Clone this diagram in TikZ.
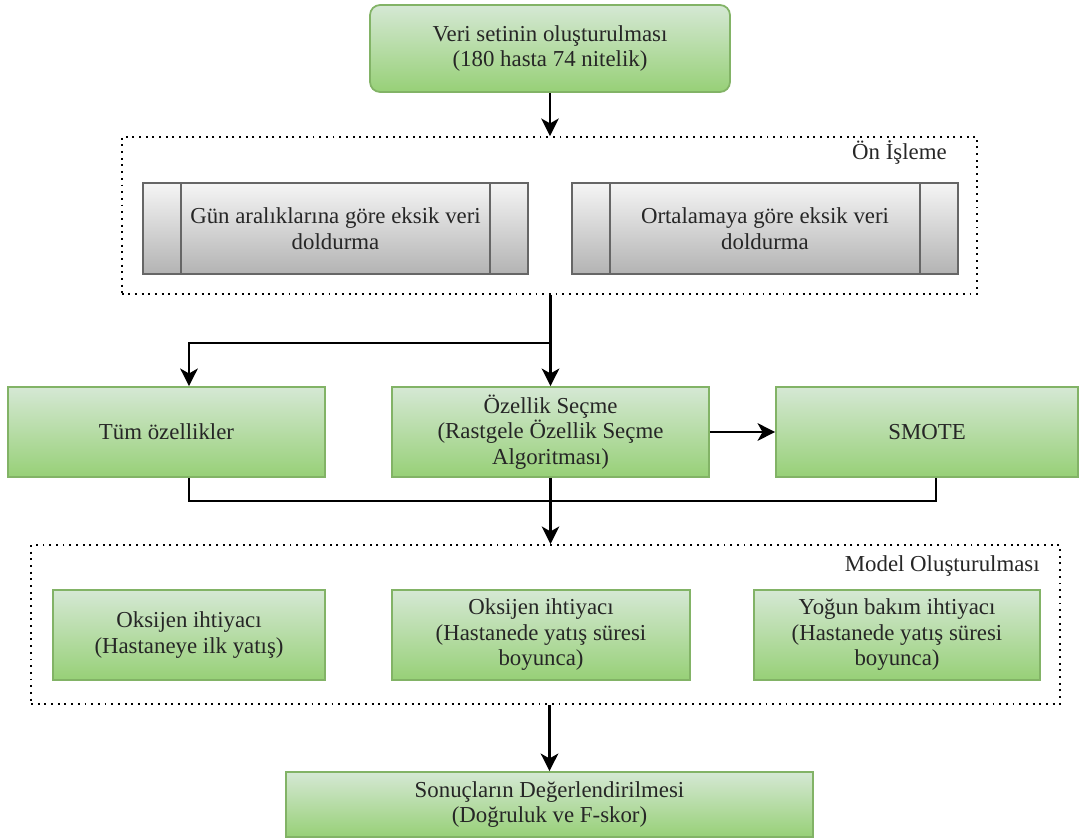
\documentclass[tikz,border=0pt]{standalone}
\usepackage{fontspec}
\setmainfont{Liberation Serif}
\newfontfamily\diagfont{Liberation Serif}
\usetikzlibrary{arrows.meta,positioning,calc}
\definecolor{greentop}{HTML}{D5E8D4}
\definecolor{greenbot}{HTML}{97D077}
\definecolor{greenline}{HTML}{82B366}
\definecolor{graytop}{HTML}{F5F5F5}
\definecolor{graybot}{HTML}{B3B3B3}
\definecolor{grayline}{HTML}{666666}
\tikzset
{
    stepnode/.style  = {rectangle, draw=greenline, line width=1pt, top color=greentop, bottom color=greenbot, align=center, inner sep=0pt, text=black!85, font=\diagfont\fontsize{13}{14.5}\selectfont},
    startnode/.style = {stepnode, rounded corners=0.2cm},
    procnode/.style  = {rectangle, draw=grayline, line width=1pt, top color=graytop, bottom color=graybot, align=center, inner sep=0pt, text=black!85, font=\diagfont\fontsize{13}{14.5}\selectfont},
    procline/.style  = {draw=grayline, line width=1pt},
    group/.style     = {rectangle, draw=black, line width=1.1pt, dash pattern=on 1.1pt off 2.7pt, inner sep=0pt},
    grouplabel/.style= {anchor=base east, inner sep=0pt, text=black!85, font=\diagfont\fontsize{13}{14.5}\selectfont},
    arrow/.style     = {line width=1.4pt, -{Stealth[length=10pt,width=10pt,inset=2.8pt]}},
    link/.style      = {line width=1.4pt}
}

\begin{document}
\begin{tikzpicture}[x=0.02cm, y=-0.02cm]
	 \newcommand\STRIPDX{39}
	 \useasboundingbox (0,0) rectangle (1084,838);

   % groups
   \node (pre)    [group, minimum width=17.12cm, minimum height=3.14cm]  at (549.5, 215.5) {};
   \node (model)  [group, minimum width=20.58cm, minimum height=3.18cm]  at (545.5, 624.5) {};
   \node (prelbl) [grouplabel]  at (947, 159)  {Ön İşleme};
   \node (modlbl) [grouplabel]  at (1040, 571) {Model Oluşturulması};

   % steps
   \node (veri)   [startnode, minimum width=7.2cm, minimum height=1.74cm]  at (550, 48.5)    {Veri setinin oluşturulması\\(180 hasta 74 nitelik)};
   \node (gapl)   [procnode, minimum width=7.7cm, minimum height=1.82cm]   at (335.5, 228.5) {Gün aralıklarına göre eksik veri\\doldurma};
   \node (gapr)   [procnode, minimum width=7.72cm, minimum height=1.82cm]  at (765, 228.5)   {Ortalamaya göre eksik veri\\doldurma};
   \node (tum)    [stepnode, minimum width=6.34cm, minimum height=1.8cm]   at (166.5, 432)   {Tüm özellikler};
   \node (ozs)    [stepnode, minimum width=6.34cm, minimum height=1.8cm]   at (550.5, 432)   {Özellik Seçme\\(Rastgele Özellik Seçme\\Algoritması)};
   \node (smote)  [stepnode, minimum width=6.04cm, minimum height=1.8cm]   at (927, 432)     {SMOTE};
   \node (oxa)    [stepnode, minimum width=5.44cm, minimum height=1.8cm]   at (189, 635)     {Oksijen ihtiyacı\\(Hastaneye ilk yatış)};
   \node (oxb)    [stepnode, minimum width=5.96cm, minimum height=1.8cm]   at (541, 635)     {Oksijen ihtiyacı\\(Hastanede yatış süresi\\boyunca)};
   \node (icu)    [stepnode, minimum width=5.72cm, minimum height=1.8cm]   at (897, 635)     {Yoğun bakım ihtiyacı\\(Hastanede yatış süresi\\boyunca)};
   \node (sonuc)  [stepnode, minimum width=10.54cm, minimum height=1.3cm]  at (549.5, 804.5) {Sonuçların Değerlendirilmesi\\(Doğruluk ve F-skor)};

   % process side bars
   \foreach \p in {gapl, gapr}
   {
      \draw[procline] ($(\p.north west)+(\STRIPDX,0)$) -- ($(\p.south west)+(\STRIPDX,0)$);
      \draw[procline] ($(\p.north east)+(-\STRIPDX,0)$) -- ($(\p.south east)+(-\STRIPDX,0)$);
   }

   \coordinate (tumtop)   at ($(tum.north)+(22.5,0)$);
   \coordinate (tumbot)   at ($(tum.south)+(22.5,0)$);
   \coordinate (smotebot) at ($(smote.south)+(9,0)$);

   \draw[arrow] (veri.south) -- (veri.south |- pre.north);
   \draw[arrow] (pre.south -| ozs.north) -- (ozs.north);
   \draw[arrow] (pre.south -| ozs.north) -- ++(0,48) -| (tumtop);
   \path (ozs) edge[arrow] (smote);
   \draw[link]  (tumbot) -- ++(0,23) -| (smotebot);
   \draw[arrow] (ozs.south) -- (ozs.south |- model.north);
   \draw[arrow] (model.south -| sonuc.north) -- (sonuc.north);
\end{tikzpicture}
\end{document}
